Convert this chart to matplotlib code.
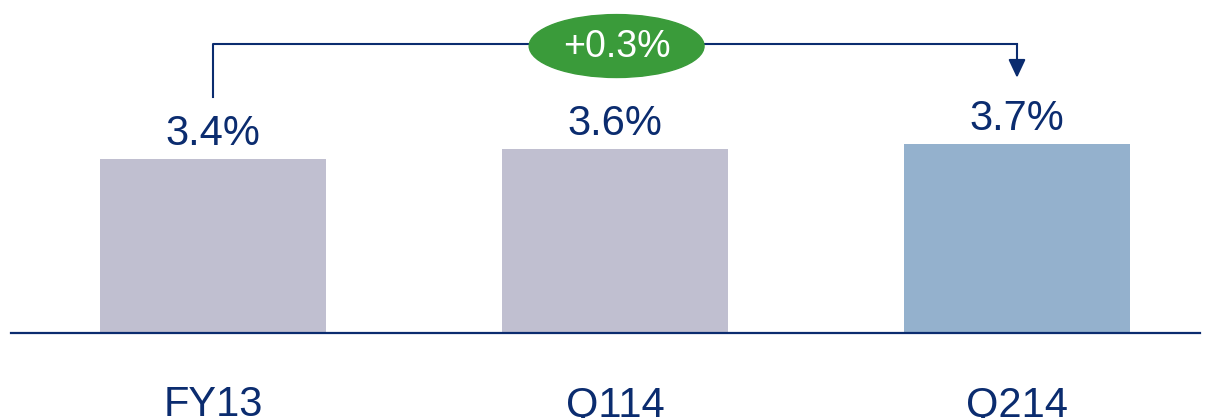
import matplotlib.pyplot as plt
from matplotlib.patches import Ellipse

categories = ['FY13', 'Q114', 'Q214']
values = [3.4, 3.6, 3.7]
value_labels = ['3.4%', '3.6%', '3.7%']
change_label = '+0.3%'

navy = '#0B2C6F'
bar_colors = ['#C0BFD0', '#C0BFD0', '#94B1CD']
green = '#3A9B3A'

plt.rcParams['font.family'] = ['Liberation Sans', 'DejaVu Sans']

fig = plt.figure(figsize=(12.11, 4.18), dpi=100)
ax = fig.add_axes([0, 0, 1, 1])
ax.set_xlim(-0.5299, 2.4826)
ax.set_ylim(-1.662, 6.510)
ax.axis('off')

x = list(range(len(categories)))
ax.bar(x, values, width=0.562, color=bar_colors, zorder=2)
ax.axhline(0, xmin=0.009, xmax=0.991, color=navy, lw=1.6, zorder=3)

for xi, v, lab in zip(x, values, value_labels):
    ax.text(xi, v + 0.27, lab, ha='center', va='baseline', fontsize=30, color=navy)

# category labels run off the bottom edge, as in the original
for xi, c in zip(x, categories):
    ax.text(xi, -1.62, c, ha='center', va='baseline', fontsize=30, color=navy)

# bracket from first to last bar
y_top = 5.65
ax.plot([x[0], x[0], x[-1]], [values[0] + 1.21, y_top, y_top], color=navy, lw=1.5, zorder=3)
ax.annotate('', xy=(x[-1], 4.99), xytext=(x[-1], y_top),
            arrowprops=dict(arrowstyle='-|>,head_width=0.4,head_length=0.85',
                            mutation_scale=13, color=navy, lw=1.5,
                            shrinkA=0, shrinkB=0))

xm = (x[0] + x[-1]) / 2
ax.add_patch(Ellipse((xm + 0.004, y_top - 0.04), width=0.435, height=1.23,
                     color=green, zorder=4))
ax.text(xm + 0.004, y_top - 0.05, change_label, ha='center', va='center',
        fontsize=27, color='white', zorder=5)

fig.savefig('out.png', dpi=100)
